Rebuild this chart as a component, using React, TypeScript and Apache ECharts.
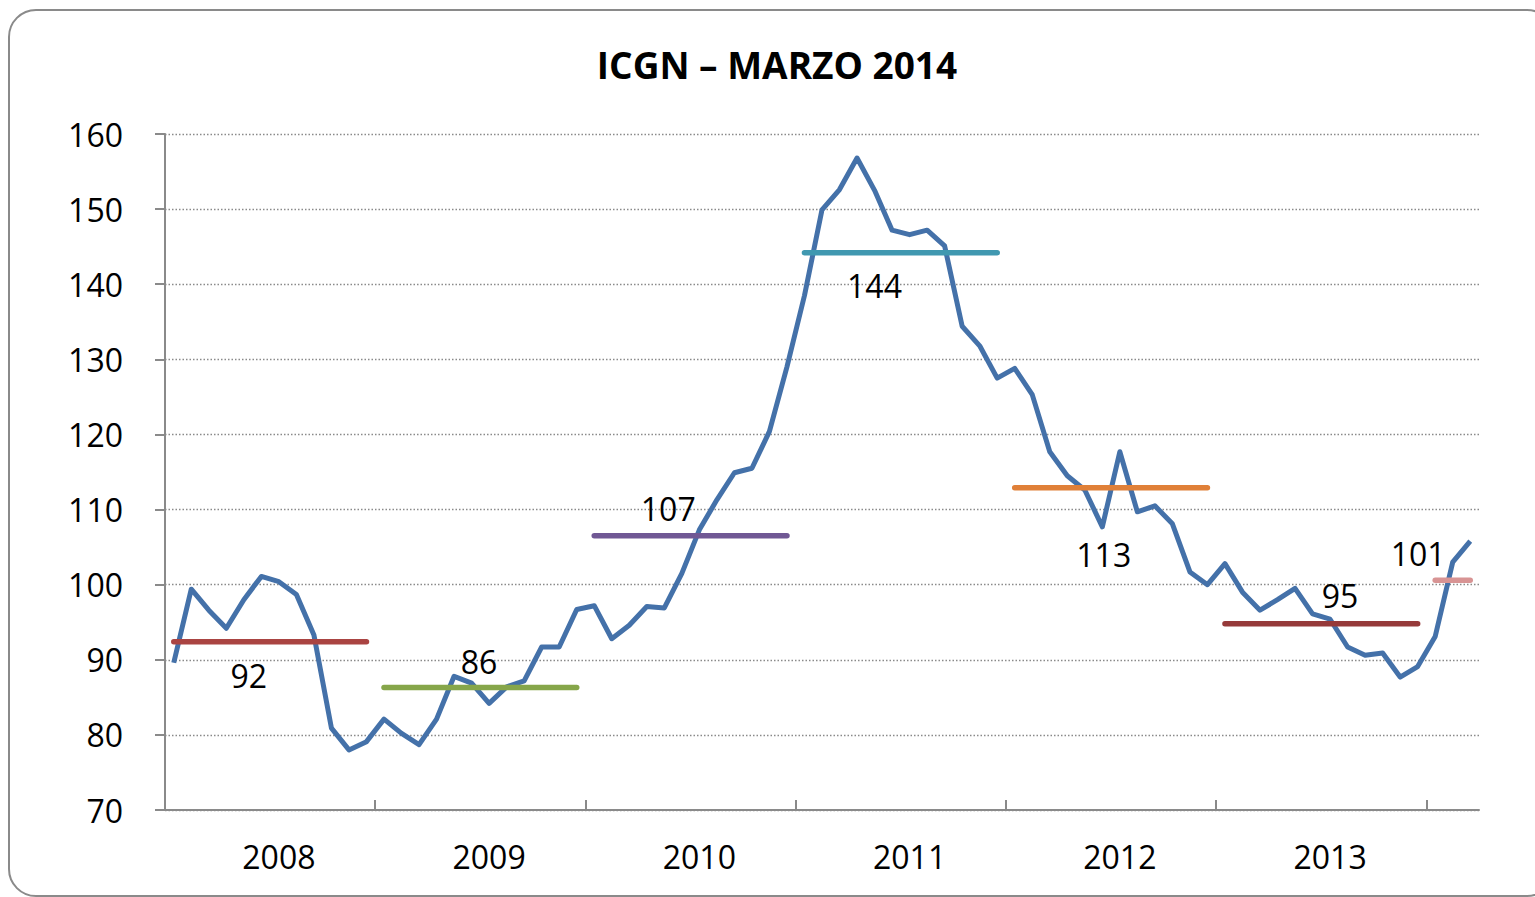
import React, { useEffect, useRef } from "react";
import * as echarts from "echarts";

// ---- data ----
const axisYears = ["2008", "2009", "2010", "2011", "2012", "2013"];
const avgYears = ["2008", "2009", "2010", "2011", "2012", "2013", "2014"];

const icgn2008 = [89.6, 99.4, 96.6, 94.2, 98.0, 101.1, 100.4, 98.7, 93.3, 80.9, 78.0, 79.1];
const icgn2009 = [82.1, 80.2, 78.7, 82.1, 87.8, 86.9, 84.2, 86.4, 87.2, 91.7, 91.7, 96.7];
const icgn2010 = [97.2, 92.8, 94.6, 97.1, 96.9, 101.5, 107.3, 111.3, 114.9, 115.5, 120.4, 129.0];
const icgn2011 = [138.5, 149.9, 152.6, 156.8, 152.5, 147.2, 146.6, 147.2, 145.1, 134.4, 131.8, 127.5];
const icgn2012 = [128.8, 125.3, 117.7, 114.5, 112.6, 107.7, 117.7, 109.7, 110.5, 108.1, 101.7, 100.0];
const icgn2013 = [102.8, 99.0, 96.6, 98.0, 99.5, 96.1, 95.4, 91.7, 90.6, 90.9, 87.7, 89.1];
const icgn2014 = [93.1, 103.0, 105.8];

const annualAverages = [92.4, 86.3, 106.5, 144.2, 112.9, 94.8, 100.6];

const yMin = 70;
const yMax = 160;
const yStep = 10;

// ---- styles ----
const FONT = "Open Sans";
const GRAY = "#8a8a8a";
const MAIN_COLOR = "#4471A9";
const avgColors = ["#AA4442", "#86A64A", "#705894", "#4098B0", "#E08038", "#963A3A", "#D89494"];
const labelOffsets: [number, number][] = [
  [75, 34],
  [95, -26],
  [74, -27],
  [70, 33],
  [89, 67],
  [115, -28],
  [-17, -27],
];

const yearlyMonthly = [icgn2008, icgn2009, icgn2010, icgn2011, icgn2012, icgn2013, icgn2014];

export default function App() {
  const ref = useRef<HTMLDivElement>(null);

  useEffect(() => {
    if (!ref.current) return;
    const chart = echarts.init(ref.current, null, { renderer: "svg" });

    const monthly: number[] = [];
    yearlyMonthly.forEach((arr) => arr.forEach((v) => monthly.push(v)));
    const totalMonths = monthly.length;

    const mainData = monthly.map((v, i) => [i + 0.5, v]);

    let startIdx = 0;
    const avgSeries = annualAverages.map((avg, k) => {
      const n = yearlyMonthly[k].length;
      const s = startIdx;
      startIdx += n;
      return {
        type: "line",
        name: "Media " + avgYears[k],
        symbol: "circle",
        symbolSize: 1,
        showSymbol: true,
        itemStyle: { color: "rgba(0,0,0,0)" },
        lineStyle: { color: avgColors[k], width: 5.5, cap: "round" },
        silent: true,
        z: 3,
        data: [
          {
            value: [s + 0.5, avg],
            label: {
              show: true,
              position: "inside",
              offset: labelOffsets[k],
              formatter: () => String(Math.round(avg)),
              color: "#000",
              fontSize: 32,
              fontFamily: FONT,
            },
          },
          { value: [s + n - 0.5, avg], label: { show: false } },
        ],
      };
    });

    const tickValues = axisYears.map((_, k) => 12 * (k + 1));
    const labelValues = axisYears.map((_, k) => 12 * k + 6.5);

    chart.setOption({
      animation: false,
      backgroundColor: "#ffffff",
      grid: { left: 165, top: 134, right: 1535 - 1479, bottom: 897 - 810, containLabel: false },
      graphic: [
        {
          type: "rect",
          shape: { x: 9, y: 10, width: 1545, height: 886, r: 27 },
          style: { fill: "none", stroke: GRAY, lineWidth: 2 },
          silent: true,
          z: -1,
        },
        {
          type: "text",
          x: 777,
          y: 64,
          style: {
            text: "ICGN – MARZO 2014",
            fontSize: 37,
            fontWeight: "bold",
            fontFamily: FONT,
            fill: "#000",
            align: "center",
            verticalAlign: "middle",
          },
        },
      ],
      xAxis: {
        type: "value",
        min: 0,
        max: totalMonths,
        axisLine: { show: true, onZero: false, lineStyle: { color: GRAY, width: 2 } },
        axisTick: {
          show: true,
          inside: true,
          length: 10,
          customValues: tickValues,
          lineStyle: { color: GRAY, width: 2 },
        },
        axisLabel: {
          customValues: labelValues,
          formatter: (v: number) => axisYears[Math.floor(v / 12)] ?? "",
          fontSize: 32,
          fontFamily: FONT,
          color: "#000",
          margin: 30,
        },
        splitLine: { show: false },
      },
      yAxis: {
        type: "value",
        min: yMin,
        max: yMax,
        interval: yStep,
        axisLine: { show: true, lineStyle: { color: GRAY, width: 2 } },
        axisTick: { show: true, length: 10, lineStyle: { color: GRAY, width: 2 } },
        axisLabel: { fontSize: 32, fontFamily: FONT, color: "#000", margin: 42 },
        splitLine: { show: true, lineStyle: { color: GRAY, width: 1.3, type: [1.5, 2] } },
      },
      series: [
        {
          type: "line",
          name: "ICGN",
          data: mainData,
          symbol: "none",
          lineStyle: { color: MAIN_COLOR, width: 5, join: "round" },
          z: 2,
        },
        ...avgSeries,
      ],
    });

    return () => chart.dispose();
  }, []);

  return (
    <div
      ref={ref}
      style={{ position: "fixed", left: 0, top: 0, width: 1535, height: 897, background: "#fff" }}
    />
  );
}
